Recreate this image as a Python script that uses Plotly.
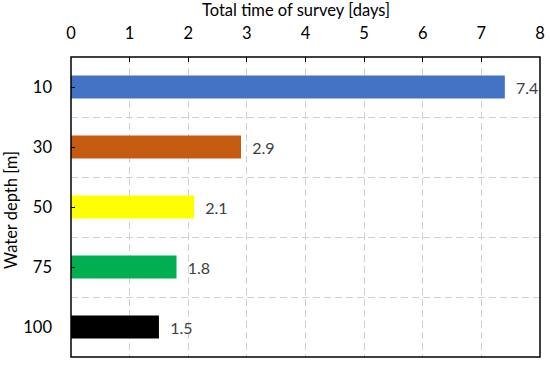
import plotly.graph_objects as go

depths = ["10", "30", "50", "75", "100"]
days = [7.4, 2.9, 2.1, 1.8, 1.5]
colors = ["#4472C4", "#C55A11", "#FFFF00", "#00B050", "#000000"]
labels = ["7.4", "2.9", "2.1", "1.8", "1.5"]
xticks = [0, 1, 2, 3, 4, 5, 6, 7, 8]
x_title = "Total time of survey [days]"
y_title = "Water depth [m]"

pos = list(range(len(depths)))
FONT = "Lato"
GRID = dict(gridcolor="#D0D0D0", griddash="7px,4px", gridwidth=1.2)

fig = go.Figure(go.Bar(
    x=days, y=pos, orientation="h",
    marker=dict(color=colors, line=dict(width=0)),
    width=0.38,
    text=["  " + t for t in labels], textposition="outside",
    textfont=dict(family=FONT, size=16, color="#404040"),
    cliponaxis=False,
))

fig.update_layout(
    width=550, height=365,
    margin=dict(l=71, r=10, t=57, b=8),
    paper_bgcolor="white", plot_bgcolor="white",
    showlegend=False,
    font=dict(family=FONT, size=16.5, color="#000000"),
    shapes=[dict(type="rect", xref="paper", yref="paper", x0=0, x1=1, y0=0, y1=1,
                 line=dict(color="black", width=1.5), layer="above")],
    annotations=[
        dict(text=x_title, xref="paper", yref="paper", x=0.48, y=1.157,
             xanchor="center", yanchor="middle", showarrow=False, font=dict(size=16.5)),
        dict(text=y_title, xref="paper", yref="paper", x=-0.128, y=0.49, textangle=-90,
             xanchor="center", yanchor="middle", showarrow=False, font=dict(size=16.5)),
    ],
)
fig.update_xaxes(
    side="top", range=[0, 8], tickvals=xticks,
    showgrid=True, **GRID,
    ticks="inside", ticklen=5, tickcolor="black",
    ticklabelstandoff=14, automargin=False,
    showline=False, zeroline=False,
)
fig.update_yaxes(
    range=[len(depths) - 0.5, -0.5], tickvals=pos, ticktext=depths,
    showgrid=False,
    minor=dict(tick0=0.5, dtick=1, showgrid=True, ticks="", **GRID),
    ticks="inside", ticklen=4, tickcolor="black",
    ticklabelstandoff=18, automargin=False,
    showline=False, zeroline=False,
)

fig.write_html("out.html", config={"displayModeBar": False},
               post_script="document.body.style.margin='0';")
